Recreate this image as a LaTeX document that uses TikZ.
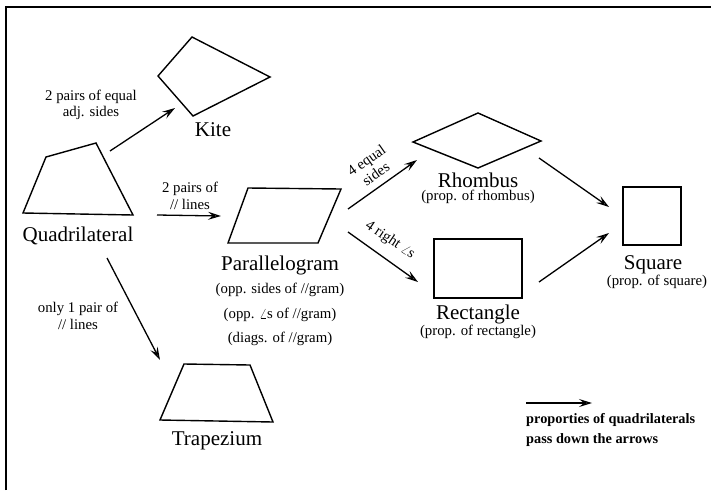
\documentclass[tikz,border=0pt]{standalone}
\usepackage{fontspec}
\setmainfont{Liberation Serif}
\usetikzlibrary{arrows.meta}
\begin{document}
\begin{tikzpicture}[x=1pt,y=-1pt,
  shp/.style={line width=1.4pt,line join=miter},
  arr/.style={line width=1.3pt,-{Stealth[length=13pt,width=8pt,inset=5pt,fill=gray!50]}},
  big/.style={font=\fontsize{21}{24}\selectfont,inner sep=0pt},
  small/.style={font=\fontsize{14.8}{16.5}\selectfont,align=center,inner sep=0pt},
  legend/.style={font=\fontsize{14.3}{20}\selectfont\bfseries,align=left,inner sep=0pt}]
\useasboundingbox (0,0) rectangle (711,490);
% frame
\draw[line width=1.2pt] (6,490) -- (6,7) -- (711,7);
% shapes
\draw[shp] (192,37) -- (270,77) -- (193,116) -- (158,76) -- cycle;
\draw[shp] (23,213) -- (46,157) -- (96,143) -- (133,215) -- cycle;
\draw[shp] (248,188) -- (341,189) -- (318,243) -- (228,243) -- cycle;
\draw[shp] (184,364) -- (250,365) -- (273,422) -- (160,420) -- cycle;
\draw[shp] (413,142) -- (478,113) -- (541,141) -- (478,168) -- cycle;
\draw[shp] (434,239) rectangle (522,298);
\draw[shp] (623,187) rectangle (681,245);
% labels
\node[big] (kite) at (213,130) {Kite};
\node[big] (quad) at (78,236) {Quadrilateral};
\node[big] (para) at (280,265) {Parallelogram};
\node[small] (para1) at (280,290) {(opp. sides of //gram)};
\node[small] (para2) at (280,315) {(opp. $\angle$s of //gram)};
\node[small] (para3) at (280,339) {(diags. of //gram)};
\node[big] (trap) at (217,441) {Trapezium};
\node[big] (rhom) at (478,180) {Rhombus};
\node[small] (rhom1) at (478,197) {(prop. of rhombus)};
\node[big] (rect) at (478,314) {Rectangle};
\node[small] (rect1) at (478,332) {(prop. of rectangle)};
\node[big] (sq) at (653,265) {Square};
\node[small] (sq1) at (657,282) {(prop. of square)};
% arrow end points
\coordinate (qk1) at (110,151); \coordinate (qk2) at (175,108);
\coordinate (qp1) at (157,215); \coordinate (qp2) at (221,216);
\coordinate (qt1) at (107,258); \coordinate (qt2) at (160,360);
\coordinate (pr1) at (348,209); \coordinate (pr2) at (417,160);
\coordinate (pc1) at (348,232); \coordinate (pc2) at (418,282);
\coordinate (rs1) at (539,158); \coordinate (rs2) at (609,207);
\coordinate (cs1) at (539,282); \coordinate (cs2) at (609,233);
\coordinate (lg1) at (526,403); \coordinate (lg2) at (592,403);
\draw[arr] (qk1) -- (qk2);
\draw[arr] (qp1) -- (qp2);
\draw[arr] (qt1) -- (qt2);
\draw[arr] (pr1) -- (pr2);
\draw[arr] (pc1) -- (pc2);
\draw[arr] (rs1) -- (rs2);
\draw[arr] (cs1) -- (cs2);
\draw[arr] (lg1) -- (lg2);
% arrow labels
\node[small] (lqk) at (91,105) {2 pairs of equal\\adj. sides};
\node[small] (lqp) at (190,196) {2 pairs of\\// lines};
\node[small] (lqt) at (78,316) {only 1 pair of\\// lines};
\node[small,rotate=35] (lpr) at (371,167) {4 equal\\sides};
\node[small,rotate=-34] (lpc) at (390,240) {4 right $\angle$s};
\node[legend,anchor=north west] (leg) at (526,413) {proporties of quadrilaterals\\pass down the arrows};
\end{tikzpicture}
\end{document}
